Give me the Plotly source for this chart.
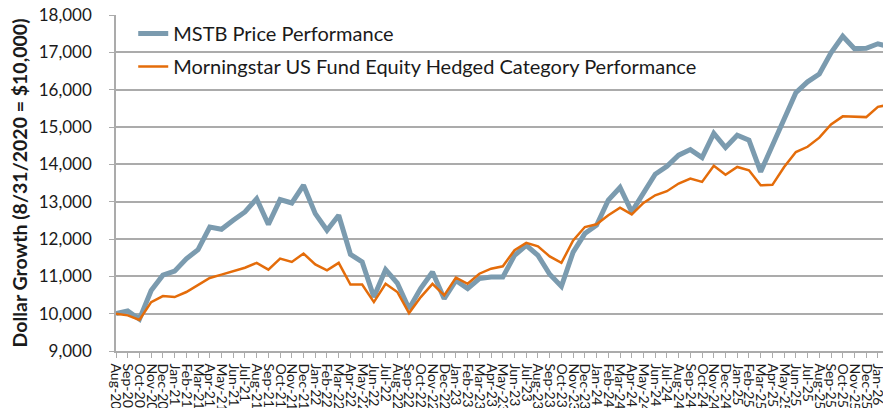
import plotly.graph_objects as go

months = ["Aug-20","Sep-20","Oct-20","Nov-20","Dec-20",
          "Jan-21","Feb-21","Mar-21","Apr-21","May-21","Jun-21","Jul-21","Aug-21","Sep-21","Oct-21","Nov-21","Dec-21",
          "Jan-22","Feb-22","Mar-22","Apr-22","May-22","Jun-22","Jul-22","Aug-22","Sep-22","Oct-22","Nov-22","Dec-22",
          "Jan-23","Feb-23","Mar-23","Apr-23","May-23","Jun-23","Jul-23","Aug-23","Sep-23","Oct-23","Nov-23","Dec-23",
          "Jan-24","Feb-24","Mar-24","Apr-24","May-24","Jun-24","Jul-24","Aug-24","Sep-24","Oct-24","Nov-24","Dec-24",
          "Jan-25","Feb-25","Mar-25","Apr-25","May-25","Jun-25","Jul-25","Aug-25","Sep-25","Oct-25","Nov-25","Dec-25",
          "Jan-26","Feb-26"]

mstb = [10000, 10070, 9850, 10620, 11030,
        11140, 11470, 11715, 12320, 12260, 12500, 12725, 13080, 12390, 13055, 12965, 13440,
        12680, 12235, 12635, 11590, 11385, 10445, 11180, 10820, 10130, 10680, 11115, 10400,
        10890, 10670, 10940, 10980, 10980, 11560, 11830, 11560, 11055, 10730, 11650, 12145,
        12370, 13040, 13380, 12725, 13260, 13735, 13950, 14245, 14395, 14180, 14830, 14450,
        14780, 14650, 13800, 14530, 15270, 15920, 16210, 16420, 16990, 17430, 17100, 17110,
        17230, 17150]

category = [10000, 9955, 9830, 10310, 10470,
            10445, 10580, 10760, 10955, 11045, 11140, 11230, 11360, 11180, 11475, 11385, 11610,
            11320, 11160, 11360, 10780, 10780, 10310, 10800, 10580, 10015, 10445, 10800, 10490,
            10965, 10800, 11070, 11205, 11270, 11700, 11895, 11805, 11535, 11360, 11960, 12320,
            12395, 12635, 12840, 12660, 12965, 13170, 13280, 13485, 13620, 13530, 13960, 13720,
            13930, 13840, 13440, 13450, 13930, 14330, 14470, 14715, 15070, 15285, 15285, 15265,
            15540, 15600]

y_ticks = [9000, 10000, 11000, 12000, 13000, 14000, 15000, 16000, 17000, 18000]

FONT = "Lato, 'Open Sans', Arial, sans-serif"
BLUE = "#7B9BAF"
ORANGE = "#E46C0A"
GRID = "#ABABAB"
TXT = "#1a1a1a"

fig = go.Figure()
fig.add_trace(go.Scatter(x=months, y=mstb, mode="lines", name="MSTB Price Performance",
                         line=dict(color=BLUE, width=5), legendgroup="a"))
fig.add_trace(go.Scatter(x=months, y=category, mode="lines",
                         name="Morningstar US Fund Equity Hedged Category Performance",
                         line=dict(color=ORANGE, width=2.5), legendgroup="b"))

fig.update_layout(
    width=891, height=408,
    margin=dict(l=108, r=0, t=7, b=65),
    paper_bgcolor="white", plot_bgcolor="white",
    font=dict(family=FONT, color=TXT),
    showlegend=True,
    legend=dict(x=0.022, y=1.003, xanchor="left", yanchor="top",
                bgcolor="rgba(0,0,0,0)", font=dict(size=20, color=TXT),
                traceorder="grouped", tracegroupgap=4),
    xaxis=dict(type="category", range=[0, 66.8], showgrid=False,
               showline=True, linecolor=GRID, linewidth=1.5,
               ticks="outside", ticklen=5, tickcolor=GRID, tickwidth=1,
               tickangle=90, tickfont=dict(size=14, color=TXT),
               ticklabelstandoff=3, ticklabeloverflow="allow",
               automargin=False, dtick=1),
    yaxis=dict(range=[9000, 18000], tickvals=y_ticks, tickformat=",",
               showgrid=True, gridcolor=GRID, gridwidth=1.5,
               showline=True, linecolor=GRID, linewidth=1.5,
               ticks="outside", ticklen=5, tickcolor=GRID,
               tickfont=dict(size=17, color=TXT),
               ticklabelstandoff=14, ticklabeloverflow="allow",
               automargin=False, zeroline=False,
               title=dict(text="<b>Dollar Growth (8/31/2020 = $10,000)</b>",
                          font=dict(size=19.5, color=TXT), standoff=6)),
)

fig.write_html("out.html")
